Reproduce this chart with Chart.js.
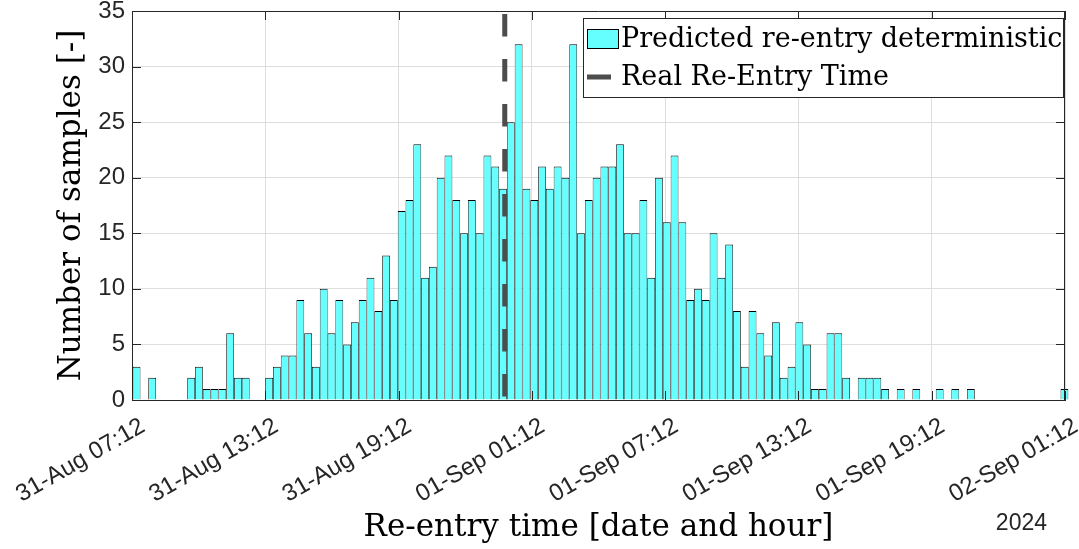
<!DOCTYPE html>
<html>
<head>
<meta charset="utf-8">
<title>Re-entry time histogram</title>
<script src="https://cdn.jsdelivr.net/npm/chart.js@4.4.1/dist/chart.umd.min.js"></script>
<style>
  html, body { margin: 0; padding: 0; background: #fff; }
</style>
</head>
<body>
<canvas id="reentryChart" width="1079" height="549"></canvas>
<script>
// hours counted from 31-Aug 00:00
const binStart = 7.23;
const binWidth = 0.351;

// samples per bin, 120 bins
const sampleCounts = [
  3, 0, 2, 0, 0, 0, 0, 2, 3, 1,
  1, 1, 6, 2, 2, 0, 0, 2, 3, 4,
  4, 9, 6, 3, 10, 6, 9, 5, 7, 9,
  11, 8, 13, 9, 17, 18, 23, 11, 12, 20,
  22, 18, 15, 18, 15, 22, 21, 19, 25, 32,
  19, 18, 21, 19, 21, 20, 32, 15, 18, 20,
  21, 21, 23, 15, 15, 18, 11, 20, 16, 22,
  16, 9, 10, 9, 15, 11, 14, 8, 3, 8,
  6, 4, 7, 2, 3, 7, 5, 1, 1, 6,
  6, 2, 0, 2, 2, 2, 1, 0, 1, 0,
  1, 0, 0, 1, 0, 1, 0, 1, 0, 0,
  0, 0, 0, 0, 0, 0, 0, 0, 0, 1
];

const realReentry = 23.98;   // 31-Aug 23:59

const tickHours = [7.2, 13.2, 19.2, 25.2, 31.2, 37.2, 43.2, 49.2];
const tickLabels = ['31-Aug 07:12', '31-Aug 13:12', '31-Aug 19:12', '01-Sep 01:12',
                    '01-Sep 07:12', '01-Sep 13:12', '01-Sep 19:12', '02-Sep 01:12'];
const yearLabel = '2024';

const barData = sampleCounts.map(function(count, i) {
    return { x: binStart + (i + 0.5) * binWidth, y: count };
});

const axisColor = '#262626';
const gridColor = '#dedede';
const serif = 'DejaVu Serif';
const sans = 'Liberation Sans';

// box round the plot with inward ticks, like the usual matlab axes
const axesBox = {
    id: 'axesBox',
    afterDraw(chart) {
        const { ctx, chartArea: a, scales: { x, y } } = chart;
        ctx.save();
        ctx.strokeStyle = axisColor;
        ctx.lineWidth = 1;
        ctx.beginPath();
        ctx.moveTo(a.left, a.top + 0.5);
        ctx.lineTo(a.right, a.top + 0.5);
        ctx.moveTo(a.right - 0.5, a.top);
        ctx.lineTo(a.right - 0.5, a.bottom);
        x.ticks.forEach(function(t) {
            const px = Math.round(x.getPixelForValue(t.value)) + 0.5;
            ctx.moveTo(px, a.bottom);
            ctx.lineTo(px, a.bottom - 9);
            ctx.moveTo(px, a.top);
            ctx.lineTo(px, a.top + 9);
        });
        y.ticks.forEach(function(t) {
            const py = Math.round(y.getPixelForValue(t.value)) + 0.5;
            ctx.moveTo(a.left, py);
            ctx.lineTo(a.left + 9, py);
            ctx.moveTo(a.right, py);
            ctx.lineTo(a.right - 9, py);
        });
        ctx.stroke();

        // year under the last date tick
        ctx.font = '23px "' + sans + '"';
        ctx.fillStyle = axisColor;
        ctx.textAlign = 'right';
        ctx.textBaseline = 'alphabetic';
        ctx.fillText(yearLabel, 1047, 530);
        ctx.restore();
    }
};

// legend box in the upper right corner
const boxLegend = {
    id: 'boxLegend',
    afterDraw(chart) {
        const ctx = chart.ctx;
        const bars = chart.data.datasets[0];
        const line = chart.data.datasets[1];
        const lx = 583, ly = 18, lw = 480, lh = 79;
        ctx.save();
        ctx.fillStyle = '#ffffff';
        ctx.fillRect(lx, ly, lw, lh);
        ctx.strokeStyle = axisColor;
        ctx.lineWidth = 1;
        ctx.strokeRect(lx + 0.5, ly + 0.5, lw, lh);

        ctx.fillStyle = bars.backgroundColor;
        ctx.fillRect(587, 29, 31, 19);
        ctx.strokeStyle = '#000';
        ctx.strokeRect(587.5, 29.5, 31, 19);

        ctx.strokeStyle = line.borderColor;
        ctx.lineWidth = line.borderWidth;
        ctx.beginPath();
        ctx.moveTo(587, 77);
        ctx.lineTo(611, 77);
        ctx.stroke();

        ctx.font = '27px "' + serif + '"';
        ctx.fillStyle = '#000';
        ctx.textAlign = 'left';
        ctx.textBaseline = 'alphabetic';
        ctx.fillText(bars.label, 621, 47);
        ctx.fillText(line.label, 621, 85);
        ctx.restore();
    }
};

const ctx = document.getElementById('reentryChart').getContext('2d');

new Chart(ctx, {
    type: 'bar',
    data: {
        datasets: [{
            label: 'Predicted re-entry deterministic',
            data: barData,
            backgroundColor: '#66ffff',
            borderColor: '#000',
            borderWidth: { top: 1, left: 0.75, right: 0.75, bottom: 0 },
            inflateAmount: 0,
            categoryPercentage: 1,
            barPercentage: 1,
            clip: false,
            order: 1
        }, {
            type: 'line',
            label: 'Real Re-Entry Time',
            data: [{ x: realReentry, y: 35 }, { x: realReentry, y: 0 }],
            borderColor: '#4d4d4d',
            borderWidth: 5,
            borderDash: [22.5, 22.5],
            borderDashOffset: 42,
            pointRadius: 0,
            order: 0
        }]
    },
    options: {
        responsive: false,
        animation: false,
        devicePixelRatio: 1,
        layout: { padding: { left: 50, right: 14, top: 11, bottom: 0 } },
        plugins: {
            legend: { display: false },
            tooltip: { enabled: false }
        },
        scales: {
            x: {
                type: 'linear',
                min: 7.2,
                max: 49.2,
                offset: false,
                afterBuildTicks: function(scale) {
                    scale.ticks = tickHours.map(function(h) { return { value: h }; });
                },
                afterFit: function(scale) {
                    scale.height = 149;
                    scale.paddingLeft = 0;
                    scale.paddingRight = 0;
                },
                grid: { color: gridColor, offset: false, drawTicks: false },
                border: { color: axisColor },
                ticks: {
                    autoSkip: false,
                    maxRotation: 30,
                    minRotation: 30,
                    padding: 12,
                    labelOffset: 11,
                    color: axisColor,
                    font: { family: sans, size: 24 },
                    callback: function(value, index) { return tickLabels[index]; }
                },
                title: {
                    display: true,
                    text: 'Re-entry time [date and hour]',
                    color: '#000',
                    font: { family: serif, size: 31 },
                    padding: { top: 0, bottom: 2 }
                }
            },
            y: {
                min: 0,
                max: 35,
                afterFit: function(scale) {
                    scale.width = 82;
                    scale.paddingTop = 0;
                    scale.paddingBottom = 0;
                },
                grid: { color: gridColor, drawTicks: false },
                border: { color: axisColor },
                ticks: {
                    stepSize: 5,
                    padding: 7,
                    color: axisColor,
                    font: { family: sans, size: 24, lineHeight: 1 }
                },
                title: {
                    display: true,
                    text: 'Number of samples [-]',
                    color: '#000',
                    font: { family: serif, size: 31 },
                    padding: { top: 3, bottom: 0 }
                }
            }
        }
    },
    plugins: [axesBox, boxLegend]
});
</script>
</body>
</html>
